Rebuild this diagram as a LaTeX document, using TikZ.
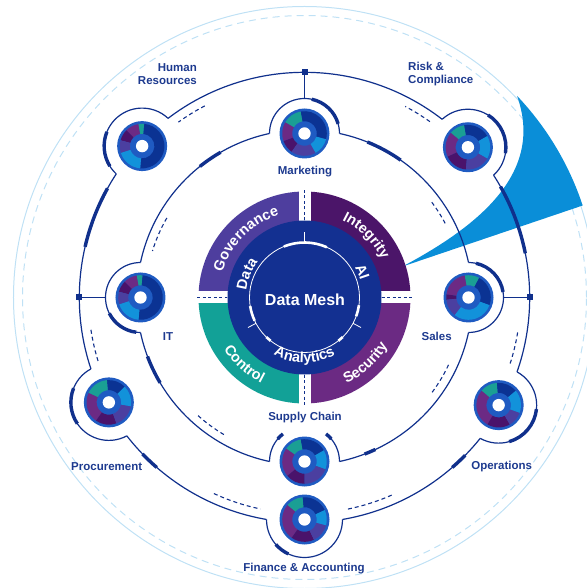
\documentclass[tikz,border=0pt]{standalone}
\usepackage{fontspec}
\setmainfont{Liberation Sans}
\usetikzlibrary{decorations.text,calc}
\definecolor{ringc}{HTML}{10308C}
\definecolor{txtc}{HTML}{1D3A8F}
\definecolor{dnavy}{HTML}{0B3393}
\definecolor{dsky}{HTML}{1292DA}
\definecolor{dindigo}{HTML}{4B3FA0}
\definecolor{ddpurple}{HTML}{4A136B}
\definecolor{dpurple}{HTML}{6C2A84}
\definecolor{dteal}{HTML}{1A9F94}
\definecolor{drim}{HTML}{1F5BC2}
\definecolor{qgov}{HTML}{4E3E9E}
\definecolor{qint}{HTML}{4B1569}
\definecolor{qcon}{HTML}{12A197}
\definecolor{qsec}{HTML}{6B2A83}
\definecolor{cnavy}{HTML}{133091}
\definecolor{beamc}{HTML}{0A8ED8}
\definecolor{lightc}{HTML}{BFE1F5}
\newcommand\qfont{\bfseries\fontsize{14.5}{16}\selectfont}
\newcommand\mydonut[2]{%
  \begin{scope}[shift={#1}]
    \fill[drim] (0,0) circle (25);
    \foreach \pa/\pb/\pcol in {#2} {
      \fill[\pcol] (\pa:22.3) arc[start angle=\pa,end angle=\pb,radius=22.3]
        -- (\pb:12.3) arc[start angle=\pb,end angle=\pa,radius=12.3] -- cycle;
    }
    \fill[white] (0,0) circle (6.2);
  \end{scope}}
\newcommand\ringarc[4][ringline]{\draw[#1] (#2:#4) arc[start angle=#2,end angle=#3,radius=#4];}
\newcommand\bulgearc[6][ringline]{\draw[#1,shift={(#2:#3)}] (#5:#4) arc[start angle=#5,end angle=#6,radius=#4];}
\tikzset{
  ringline/.style={draw=ringc, line width=1.2pt},
  thickseg/.style={draw=ringc, line width=3.4pt},
  dashseg/.style={draw=ringc, line width=1.1pt, dash pattern=on 4pt off 3pt},
  sqr/.style={fill=ringc, minimum size=6pt, inner sep=0pt},
  lbl/.style={text=txtc, font=\bfseries\fontsize{11.5}{13.5}\selectfont, inner sep=0pt},
  curvetxt/.style={decorate, decoration={text along path, text align=center, text color=white, text={#1}}},
}
\begin{document}
\begin{tikzpicture}[x=1pt,y=1pt]
\useasboundingbox (-304.5,-290.5) rectangle (281.5,297.5);
% light outer circles
\draw[lightc, line width=1pt] (0,0) circle (291);
\draw[lightc, line width=1pt, dash pattern=on 7pt off 5pt] (0,0) circle (282);
% beam
\fill[beamc] (98,31) -- (18.3:293) arc[start angle=18.3,end angle=43.5,radius=293]
  .. controls (240,125) and (175,72) .. (98,31) -- cycle;

% ===== outer ring =====
\ringarc{52.31}{127.29}{225.2}
\ringarc{146.71}{198.49}{225.2}
\ringarc{217.91}{260.29}{225.2}
\ringarc{279.71}{321.29}{225.2}
\ringarc{-19.29}{32.89}{225.2}
% outer bulges
\bulgearc{42.6}{222}{38}{132.6}{-47.4}
\bulgearc{137}{222}{38}{227}{47}
\bulgearc{208.2}{222}{38}{298.2}{118.2}
\bulgearc{270}{222}{38}{360}{180}
\bulgearc{331}{222}{38}{61}{-119}
% outer thick
\ringarc[thickseg]{151}{167}{225.2}
\ringarc[thickseg]{11.3}{29.5}{225.2}
\ringarc[thickseg]{-49}{-44.5}{225.2}
\ringarc[thickseg]{224}{229}{225.2}
\bulgearc[thickseg]{137}{222}{38}{158}{212}
\bulgearc[thickseg]{42.6}{222}{38}{58}{-9}
\bulgearc[thickseg]{331}{222}{38}{-6}{-74}
\bulgearc[thickseg]{270}{222}{38}{221}{245}
\bulgearc[thickseg]{208.2}{222}{38}{158}{214}
% outer dashes
\ringarc[dashseg]{117.5}{125.7}{216}
\ringarc[dashseg]{54.5}{62.2}{216}
\ringarc[dashseg]{188.6}{197.8}{216}
\ringarc[dashseg]{-17.8}{-9.1}{216}
\ringarc[dashseg]{245.2}{258.2}{216}
\ringarc[dashseg]{-78.4}{-65.8}{216}

% ===== inner ring =====
\ringarc{12.05}{77.95}{167.7}
\ringarc{102.05}{167.95}{167.7}
\ringarc{192.05}{257.95}{167.7}
\ringarc{282.05}{347.95}{167.7}
\bulgearc{90}{164}{35}{180}{0}
\bulgearc{180}{164}{35}{270}{90}
\bulgearc{0}{164}{35}{90}{-90}
\bulgearc{270}{164}{35}{180}{130}
\bulgearc{270}{164}{35}{50}{0}
% inner thick
\ringarc[thickseg]{120}{128.6}{167.7}
\ringarc[thickseg]{55}{68}{167.7}
\ringarc[thickseg]{200.6}{210.6}{167.7}
\ringarc[thickseg]{-69}{-65}{167.7}
\bulgearc[thickseg]{90}{164}{35}{16}{78}
\bulgearc[thickseg]{0}{164}{35}{9}{77.6}
\bulgearc[thickseg]{180}{164}{35}{207}{263}
\bulgearc[thickseg]{270}{164}{35}{128}{140}
\bulgearc[thickseg]{270}{164}{35}{40}{52}
% inner dashes
\ringarc[dashseg]{150}{163}{159}
\ringarc[dashseg]{27.8}{37.5}{159}
\ringarc[dashseg]{-36.6}{-24}{159}
\ringarc[dashseg]{228}{240}{159}

% squares and radial connectors
\node[sqr] (sqT) at (90:225.2) {};
\node[sqr] (sqL) at (180:225.2) {};
\node[sqr] (sqR) at (0:225.2) {};
\coordinate (bT) at (0,199);
\coordinate (bL) at (-199,0);
\coordinate (bR) at (199,0);
\draw[ringline] (sqT) -- (bT);
\draw[ringline] (sqL) -- (bL);
\draw[ringline] (sqR) -- (bR);

% ===== donuts =====
\mydonut{(90:164)}{-15/100/dnavy, 100/150/dteal, 150/200/dpurple, 200/235/ddpurple, 235/300/dindigo, 300/345/dsky}
\mydonut{(180:164)}{-95/85/dnavy, 85/100/dteal, 100/135/dpurple, 135/165/ddpurple, 165/198/dindigo, 198/265/dsky}
\mydonut{(0:164)}{-20/62/dnavy, 62/100/dteal, 100/172/dpurple, 172/186/ddpurple, 186/232/dindigo, 232/340/dsky}
\mydonut{(270:164)}{30/100/dnavy, 100/145/dteal, 145/220/dpurple, 220/270/ddpurple, 270/340/dindigo, 340/390/dsky}
\mydonut{(137:222)}{-95/85/dnavy, 85/100/dteal, 100/135/dpurple, 135/165/ddpurple, 165/198/dindigo, 198/265/dsky}
\mydonut{(42.6:222)}{30/100/dnavy, 100/140/dteal, 140/205/dpurple, 205/265/ddpurple, 265/330/dindigo, 330/390/dsky}
\mydonut{(208.2:222)}{45/95/dnavy, 95/155/dteal, 155/235/dpurple, 235/290/ddpurple, 290/350/dindigo, 350/405/dsky}
\mydonut{(331:222)}{40/95/dnavy, 95/140/dteal, 140/240/dpurple, 240/300/ddpurple, 300/340/dindigo, 340/400/dsky}
\mydonut{(270:222)}{25/95/dnavy, 95/140/dteal, 140/235/dpurple, 235/295/ddpurple, 295/345/dindigo, 345/385/dsky}

% ===== centre =====
\fill[qgov] (90:106) arc[start angle=90,end angle=180,radius=106] -- (180:70) arc[start angle=180,end angle=90,radius=70] -- cycle;
\fill[qint] (0:106) arc[start angle=0,end angle=90,radius=106] -- (90:70) arc[start angle=90,end angle=0,radius=70] -- cycle;
\fill[qcon] (180:106) arc[start angle=180,end angle=270,radius=106] -- (270:70) arc[start angle=270,end angle=180,radius=70] -- cycle;
\fill[qsec] (270:106) arc[start angle=270,end angle=360,radius=106] -- (0:70) arc[start angle=0,end angle=270,radius=70] -- cycle;
\fill[white] (-110,-6) rectangle (110,6);
\fill[white] (-6,-110) rectangle (6,110);
\draw[ringline, line width=1pt, dash pattern=on 3pt off 2.5pt] (-107,0) -- (-77,0);
\draw[ringline, line width=1pt, dash pattern=on 3pt off 2.5pt] (77,0) -- (107,0);
\draw[ringline, line width=1pt, dash pattern=on 3pt off 2.5pt] (0,77) -- (0,107);
\draw[ringline, line width=1pt, dash pattern=on 3pt off 2.5pt] (0,-77) -- (0,-107);
\fill[cnavy] (0,0) circle (77);
\draw[white, line width=0.8pt] (0,0) circle (55);
\ringarc[white, line width=2.6pt]{66}{112}{55}
\ringarc[white, line width=2.6pt]{189}{205}{55}
\ringarc[white, line width=2.6pt]{-20}{-8}{55}
\ringarc[white, line width=2.6pt]{226}{232}{55}
\ringarc[white, line width=2.6pt]{-52}{-46}{55}
\draw[white, line width=0.8pt] (90:55) -- (90:65);
\draw[white, line width=0.8pt] (208:55) -- (208:64);
\draw[white, line width=0.8pt] (-28:55) -- (-28:64);

\node[text=white, font=\bfseries\fontsize{16}{18}\selectfont, inner sep=0pt] (dm) at (0.5,-2) {Data Mesh};

\path[curvetxt={|\qfont|Governance}] (180:86) arc[start angle=180,end angle=90,radius=86];
\path[curvetxt={|\qfont|Integrity}] (90:86) arc[start angle=90,end angle=0,radius=86];
\path[curvetxt={|\qfont|Control}] (183:96) arc[start angle=183,end angle=273,radius=96];
\path[curvetxt={|\qfont|Security}] (268:96) arc[start angle=268,end angle=358,radius=96];
\path[curvetxt={|\qfont|Data}] (200:58.5) arc[start angle=200,end angle=116,radius=58.5];
\path[curvetxt={|\qfont|AI}] (60:58.5) arc[start angle=60,end angle=-12,radius=58.5];
\path[curvetxt={|\qfont|Analytics}] (225:65) arc[start angle=225,end angle=315,radius=65];

% ===== labels =====
\node[lbl, anchor=east, align=right] (lhr) at (-107.5,223.5) {Human\\Resources};
\node[lbl, anchor=west, align=left] (lrc) at (103.5,223.5) {Risk \&\\Compliance};
\node[lbl] (lmk) at (0.5,125.5) {Marketing};
\node[lbl] (lit) at (-136.5,-39.2) {IT};
\node[lbl] (lsa) at (132.2,-38.5) {Sales};
\node[lbl] (lsc) at (0.5,-120.5) {Supply Chain};
\node[lbl] (lpr) at (-197.8,-169.2) {Procurement};
\node[lbl] (lop) at (197.2,-169.2) {Operations};
\node[lbl] (lfa) at (-0.5,-271.5) {Finance \& Accounting};
\end{tikzpicture}
\end{document}
